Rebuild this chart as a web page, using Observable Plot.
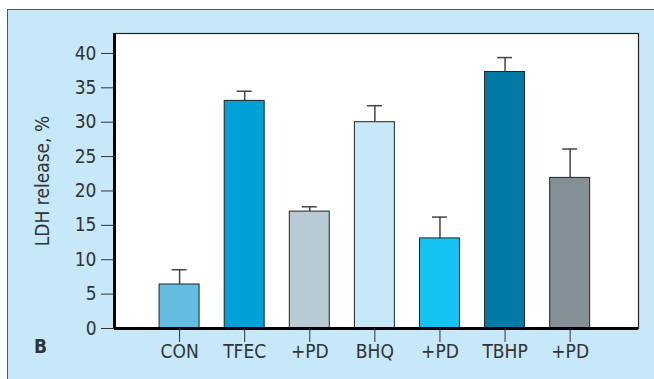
<!DOCTYPE html>
<html>
<head>
<meta charset="utf-8">
<script src="https://cdn.jsdelivr.net/npm/d3@7"></script>
<script src="https://cdn.jsdelivr.net/npm/@observablehq/plot@0.6"></script>
<style>
  html, body { margin: 0; padding: 0; background: #ffffff; }
  #wrap { position: relative; width: 654px; height: 379px; overflow: hidden; }
  #panel { position: absolute; left: 7px; top: 9px; width: 660px; height: 380px;
           background: #c6e8f8; border-top: 1px solid #555; border-left: 1px solid #555; }
  #chart { position: absolute; left: 0; top: 0; }
</style>
</head>
<body>
<div id="wrap"><div id="panel"></div><div id="chart"></div></div>
<script>
const categories = ["CON", "TFEC", "+PD", "BHQ", "+PD", "TBHP", "+PD"];
const means = [6.4, 33.1, 17.0, 30.0, 13.1, 37.3, 21.9];
const errTops = [8.55, 34.5, 17.7, 32.4, 16.2, 39.4, 26.1];
const colors = ["#62bde0", "#00a0d8", "#b8cad3", "#c6e8f8", "#15c3f2", "#007aa5", "#848f96"];
const yTicks = [0, 5, 10, 15, 20, 25, 30, 35, 40];
const yLabel = "LDH release, %";
const panelLetter = "B";

const data = categories.map((c, i) => ({i, c, v: means[i], e: errTops[i], col: colors[i]}));
const font = "'Liberation Sans Narrow', 'DejaVu Sans Condensed', 'Arial Narrow', sans-serif";
const hw = 0.307, cap = 0.115;

const chart = Plot.plot({
  width: 654, height: 379,
  marginLeft: 114, marginRight: 16, marginTop: 33, marginBottom: 51,
  style: {background: "transparent", fontFamily: font, fontSize: "19px", color: "#333"},
  x: {type: "linear", domain: [-1, 7.05]},
  y: {domain: [0, 42.9]},
  marks: [
    Plot.frame({fill: "white", stroke: "#222", strokeWidth: 1.2}),
    Plot.rectY(data, {x1: d => d.i - hw, x2: d => d.i + hw, y: "v", fill: "col", stroke: "#222", strokeWidth: 1}),
    Plot.ruleX(data, {x: "i", y1: "v", y2: "e", stroke: "#444", strokeWidth: 1.5}),
    Plot.ruleY(data, {x1: d => d.i - cap, x2: d => d.i + cap, y: "e", stroke: "#444", strokeWidth: 1.5}),
    Plot.ruleX([-1], {stroke: "#000", strokeWidth: 3}),
    Plot.ruleY([0], {stroke: "#000", strokeWidth: 3}),
    Plot.axisY({ticks: yTicks, tickSize: 13, tickPadding: 5, label: null, stroke: "#333", fill: "#333", fontSize: 19}),
    Plot.axisX({ticks: d3.range(categories.length), tickFormat: i => categories[i], tickSize: 14, tickPadding: 2, label: null, stroke: "#333", fill: "#333", fontSize: 19}),
    Plot.text([yLabel], {frameAnchor: "left", textAnchor: "middle", dx: -72, rotate: -90, text: d => d, fontSize: 19, fill: "#333"}),
    Plot.text([panelLetter], {frameAnchor: "bottom-left", textAnchor: "middle", dx: -74, dy: 24.5, text: d => d, fontSize: 19, fontWeight: "bold", fill: "#333"})
  ]
});
document.getElementById("chart").appendChild(chart);
</script>
</body>
</html>
